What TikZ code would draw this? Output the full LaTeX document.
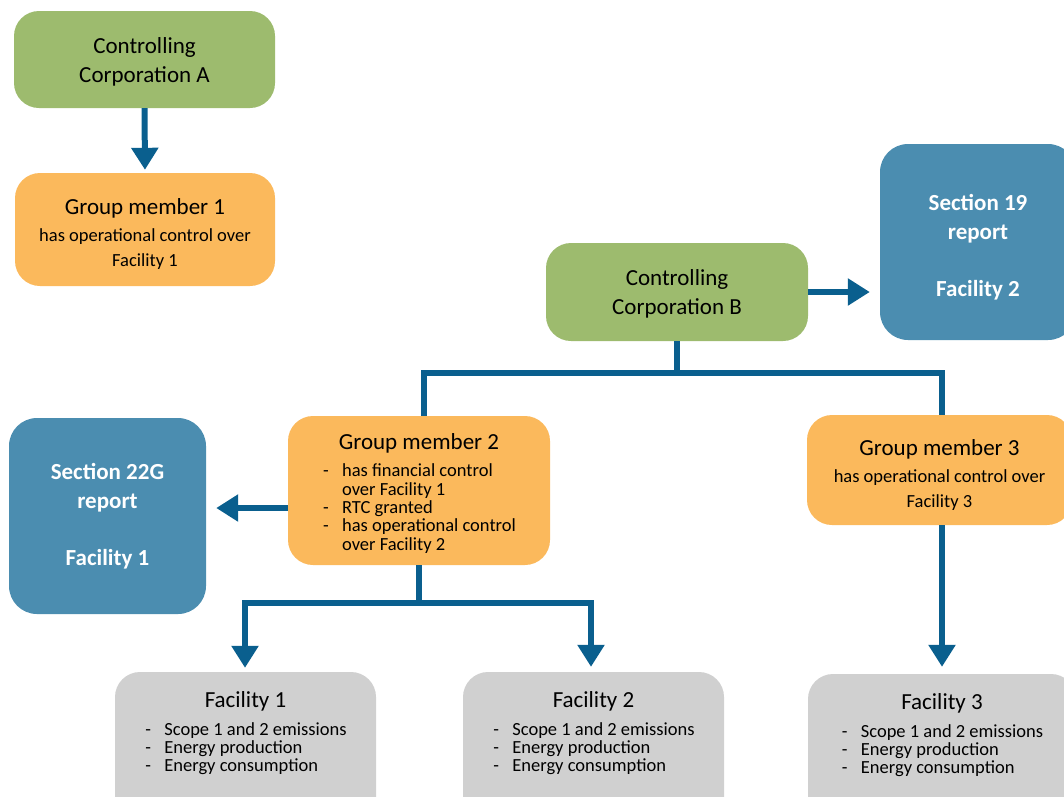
\documentclass[tikz,border=0pt]{standalone}
\usepackage{fontspec}
\setmainfont{Carlito}
\usetikzlibrary{arrows.meta}
\definecolor{cgreen}{HTML}{9DBB6E}
\definecolor{corange}{HTML}{FBB95C}
\definecolor{cblue}{HTML}{4B8DB0}
\definecolor{cline}{HTML}{0A5F8E}
\definecolor{cgrey}{HTML}{D0D0D0}
\newcommand\stk[2]{\vbox{\baselineskip=#1\lineskiplimit=-100pt\lineskip=0pt\halign{\hfil##\hfil\cr#2\crcr}}}
\newcommand\ttl{\fontsize{23}{23}\selectfont}
\newcommand\bdy{\fontsize{18.5}{18.5}\selectfont}
\newcommand\blst[2]{\vtop{\baselineskip=#1\lineskiplimit=-100pt\lineskip=0pt #2}}
\newcommand\bi[1]{\hbox{\hbox to 20pt{\hskip1pt-\hss}#1}}
\newcommand\bc[1]{\hbox{\hskip20pt #1}}
\newcommand\dn[1]{\noalign{\vskip#1}}
\tikzset{
  box/.style={rounded corners=25pt, inner sep=0pt, text=black},
  gbox/.style={box, fill=cgreen},
  obox/.style={box, fill=corange},
  bbox/.style={box, fill=cblue, rounded corners=28pt, text=white, font=\bfseries},
  fbox/.style={box, fill=cgrey},
  conn/.style={draw=cline, line width=6pt, line join=miter},
  arr/.style={conn, -{Triangle[width=26pt,length=22pt]}},
}
\begin{document}
\begin{tikzpicture}[x=1pt,y=-1pt]
\useasboundingbox (0,0) rectangle (1064,796);
\clip (0,0) rectangle (1064,796);
% top-left chain
\node[gbox, minimum width=261pt, minimum height=97pt] (cca) at (144.5,59.5)
  {\stk{29pt}{\dn{4pt}\ttl Controlling\cr \ttl Corporation A}};
\node[obox, minimum width=260pt, minimum height=113pt] (gm1) at (145,229.5)
  {\stk{25pt}{\dn{9pt}\ttl Group member 1\cr\dn{2pt}
   \bdy has operational control over\cr \bdy Facility 1}};
% corporation B
\node[gbox, minimum width=262pt, minimum height=98pt] (ccb) at (677,292)
  {\stk{29pt}{\dn{4pt}\ttl Controlling\cr \ttl Corporation B}};
\node[bbox, minimum width=196pt, minimum height=196pt] (s19) at (978,242)
  {\stk{28.5pt}{\dn{10pt}\ttl Section 19\cr \ttl report\cr \cr \ttl Facility 2}};
\node[bbox, minimum width=197pt, minimum height=196pt] (s22) at (107.5,516)
  {\stk{28.5pt}{\ttl Section 22G\cr \ttl report\cr \cr \ttl Facility 1}};
\node[obox, minimum width=262pt, minimum height=149pt] (gm2) at (419,490.5)
  {\stk{27pt}{\dn{6pt}\ttl Group member 2\cr
   \bdy\blst{18.3pt}{\bi{has financial control}\bc{over Facility 1}\bi{RTC granted}%
   \bi{has operational control}\bc{over Facility 2}}}};
\node[obox, minimum width=265pt, minimum height=110pt] (gm3) at (939.5,470)
  {\stk{25pt}{\dn{10pt}\ttl Group member 3\cr\dn{2pt}
   \bdy has operational control over\cr \bdy Facility 3}};
% facilities
\node[fbox, minimum width=261pt, minimum height=150pt] (f1) at (245.5,747)
  {\stk{28pt}{\ttl Facility 1\cr
   \bdy\blst{18pt}{\bi{Scope 1 and 2 emissions}\bi{Energy production}\bi{Energy consumption}}\cr
   \dn{27pt}}};
\node[fbox, minimum width=261pt, minimum height=150pt] (f2) at (593.5,747)
  {\stk{28pt}{\ttl Facility 2\cr
   \bdy\blst{18pt}{\bi{Scope 1 and 2 emissions}\bi{Energy production}\bi{Energy consumption}}\cr
   \dn{27pt}}};
\node[fbox, minimum width=268pt, minimum height=150pt] (f3) at (942,749)
  {\stk{28pt}{\ttl Facility 3\cr
   \bdy\blst{18pt}{\bi{Scope 1 and 2 emissions}\bi{Energy production}\bi{Energy consumption}}\cr
   \dn{27pt}}};
% connectors
\coordinate (bL) at (424,373);
\coordinate (bR) at (942,373);
\coordinate (cM) at (419,603);
\coordinate (cL) at (245,603);
\coordinate (cR) at (591,603);
\coordinate (g2w) at ([yshift=-17.5pt]gm2.west);
\draw[arr, shorten >=3pt] (cca.south) -- (gm1.north);
\draw[arr, shorten >=10pt] (ccb.east) -- (ccb.east -| s19.west);
\draw[conn] (ccb.south) -- (ccb.south |- bL);
\draw[conn] (gm2.north -| bL) -- (bL) -- (bR) -- (gm3.north -| bR);
\draw[arr, shorten >=10pt] (g2w) -- (g2w -| s22.east);
\draw[arr, shorten >=7pt] (gm3.south -| bR) -- (f3.north -| bR);
\draw[conn] (gm2.south) -- (cM);
\draw[arr, shorten >=4pt] (cM) -- (cL) -- (f1.north -| cL);
\draw[arr, shorten >=5pt] (cM) -- (cR) -- (f2.north -| cR);
\end{tikzpicture}
\end{document}
